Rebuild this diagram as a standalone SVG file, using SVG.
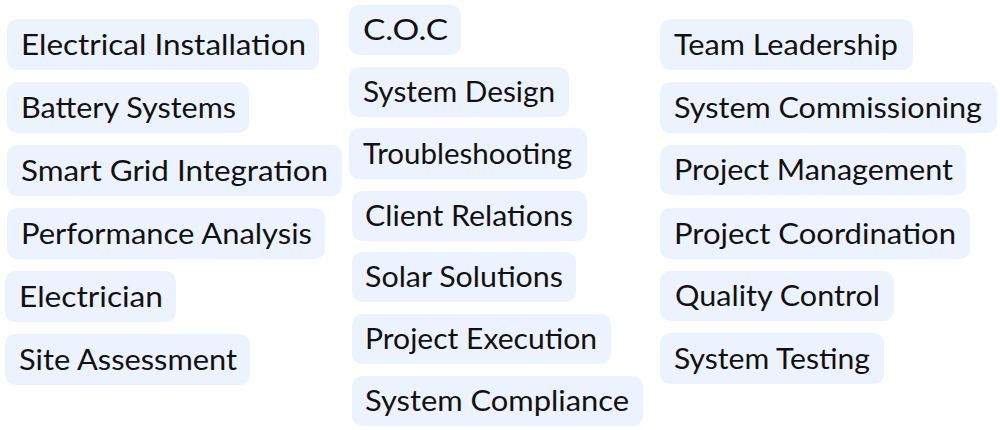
<svg xmlns="http://www.w3.org/2000/svg" width="1000" height="430" viewBox="0 0 1000 430">
<style>
.tag rect{fill:#EDF3FE}
.tag text{font-family:Lato,"Open Sans","Liberation Sans",sans-serif;font-size:29px;fill:#111111;}
</style>
<rect width="1000" height="430" fill="#ffffff"/>
<g id="electrical-installation" class="tag"><rect x="7" y="19" width="312" height="51" rx="10"/><text x="21" y="54.5" textLength="285" lengthAdjust="spacingAndGlyphs">Electrical Installation</text></g>
<g id="battery-systems" class="tag"><rect x="7" y="82" width="242" height="51" rx="10"/><text x="21" y="117.5" textLength="215" lengthAdjust="spacingAndGlyphs">Battery Systems</text></g>
<g id="smart-grid-integration" class="tag"><rect x="7" y="145" width="335" height="51" rx="10"/><text x="21" y="180.5" textLength="307" lengthAdjust="spacingAndGlyphs">Smart Grid Integration</text></g>
<g id="performance-analysis" class="tag"><rect x="7" y="208" width="318" height="51" rx="10"/><text x="21" y="243.5" textLength="291" lengthAdjust="spacingAndGlyphs">Performance Analysis</text></g>
<g id="electrician" class="tag"><rect x="5" y="271" width="171" height="51" rx="10"/><text x="19" y="306.5" textLength="144" lengthAdjust="spacingAndGlyphs">Electrician</text></g>
<g id="site-assessment" class="tag"><rect x="5" y="334" width="245" height="51" rx="10"/><text x="19" y="369.5" textLength="218" lengthAdjust="spacingAndGlyphs">Site Assessment</text></g>

<g id="coc" class="tag"><rect x="349" y="5" width="112" height="50" rx="10"/><text x="363" y="40" textLength="85" lengthAdjust="spacingAndGlyphs">C.O.C</text></g>
<g id="system-design" class="tag"><rect x="349" y="67" width="220" height="50" rx="10"/><text x="363" y="102" textLength="192" lengthAdjust="spacingAndGlyphs">System Design</text></g>
<g id="troubleshooting" class="tag"><rect x="349" y="128" width="238" height="51" rx="10"/><text x="363" y="163.5" textLength="209" lengthAdjust="spacingAndGlyphs">Troubleshooting</text></g>
<g id="client-relations" class="tag"><rect x="352" y="191" width="235" height="50" rx="10"/><text x="365" y="226" textLength="208" lengthAdjust="spacingAndGlyphs">Client Relations</text></g>
<g id="solar-solutions" class="tag"><rect x="352" y="252" width="224" height="50" rx="10"/><text x="365" y="287" textLength="198" lengthAdjust="spacingAndGlyphs">Solar Solutions</text></g>
<g id="project-execution" class="tag"><rect x="352" y="314" width="259" height="50" rx="10"/><text x="365" y="349" textLength="232" lengthAdjust="spacingAndGlyphs">Project Execution</text></g>
<g id="system-compliance" class="tag"><rect x="352" y="376" width="291" height="50" rx="10"/><text x="365" y="411" textLength="264" lengthAdjust="spacingAndGlyphs">System Compliance</text></g>

<g id="team-leadership" class="tag"><rect x="660" y="19" width="253" height="51" rx="10"/><text x="674" y="54.5" textLength="224" lengthAdjust="spacingAndGlyphs">Team Leadership</text></g>
<g id="system-commissioning" class="tag"><rect x="660" y="82" width="337" height="51" rx="10"/><text x="674" y="117.5" textLength="308" lengthAdjust="spacingAndGlyphs">System Commissioning</text></g>
<g id="project-management" class="tag"><rect x="660" y="145" width="306" height="50" rx="10"/><text x="674" y="180" textLength="279" lengthAdjust="spacingAndGlyphs">Project Management</text></g>
<g id="project-coordination" class="tag"><rect x="660" y="208" width="310" height="51" rx="10"/><text x="674" y="243.5" textLength="282" lengthAdjust="spacingAndGlyphs">Project Coordination</text></g>
<g id="quality-control" class="tag"><rect x="660" y="271" width="234" height="50" rx="10"/><text x="675" y="306" textLength="205" lengthAdjust="spacingAndGlyphs">Quality Control</text></g>
<g id="system-testing" class="tag"><rect x="660" y="333" width="224" height="51" rx="10"/><text x="674" y="368.5" textLength="196" lengthAdjust="spacingAndGlyphs">System Testing</text></g>
</svg>
